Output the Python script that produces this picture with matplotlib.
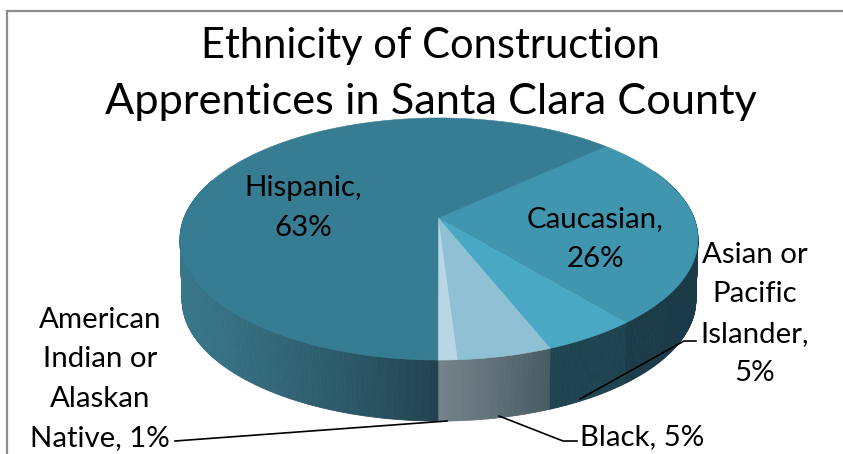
import numpy as np
import matplotlib
matplotlib.use("Agg")
import matplotlib.pyplot as plt
from matplotlib.colors import to_rgb

# ---- data ----
categories = ["Caucasian", "Asian or Pacific Islander", "Black",
              "American Indian or Alaskan Native", "Hispanic"]
shares = [26, 5, 5, 1, 63]
title_lines = ["Ethnicity of Construction", "Apprentices in Santa Clara County"]

# ---- styles ----
top_colors = ["#4095AF", "#49A8C4", "#90C0D3", "#BAD5E3", "#367D93"]
wall_colors = [("#1A3B47", "#1A3B47"), ("#1E4451", "#1E4451"), ("#475A62", "#6F7D85"),
               ("#6C7A82", "#74828A"), ("#213F4B", "#38768A")]
START_DEG = 43.0
CX, CY, R, S, A = 439.0, 218.0, 255.0, 117.4, 0.1736
DEPTH = 61.0

fig = plt.figure(figsize=(8.43, 4.54), dpi=100, facecolor="white")
ax = fig.add_axes([0, 0, 1, 1])
ax.set_xlim(0, 843)
ax.set_ylim(454, 0)
ax.axis("off")


def project(theta_deg, shift=0.0, scale=1.0):
    t = np.radians(theta_deg)
    u, v = np.cos(t), np.sin(t)
    w = 1 + A * v
    return CX + scale * R * u / w, CY - S * v / w + shift


def lerp(c0, c1, t):
    a, b = np.array(to_rgb(c0)), np.array(to_rgb(c1))
    return tuple(a + (b - a) * t)


# slice angular ranges, running clockwise from the start angle
edges = START_DEG - np.cumsum([0] + shares) * 3.6

# side wall
VIS_LO, VIS_HI = -200.0, 25.0
for i in range(len(shares)):
    hi, lo = edges[i], edges[i + 1]
    a0, a1 = max(lo, VIS_LO), min(hi, VIS_HI)
    if a1 <= a0:
        continue
    angles = np.linspace(a1, a0, max(2, int((a1 - a0) / 0.5) + 2))
    for j in range(len(angles) - 1):
        th = angles[j:j + 2]
        xt, yt = project(th)
        xb, yb = project(th, DEPTH, 0.992)
        t = (j + 0.5) / (len(angles) - 1)
        if i == 4:
            # Hispanic: ramp follows the horizontal position
            t = np.clip((CX - xt.mean()) / 250.0, 0, 1) ** 0.8
        col = lerp(wall_colors[i][0], wall_colors[i][1], t)
        ax.fill(np.r_[xt, xb[::-1]], np.r_[yt, yb[::-1]], color=col, lw=0.6, zorder=2)

# top face
for i, col in enumerate(top_colors):
    th = np.linspace(edges[i], edges[i + 1], max(3, int(shares[i] * 3.6) + 2))
    x, y = project(th)
    ax.fill(np.r_[CX - 1, x], np.r_[CY, y], color=col, lw=0.4, zorder=3)

# title
title_font = dict(family=["Lato", "DejaVu Sans"], weight="normal", color="black", zorder=6)
ax.text(430, 46, title_lines[0], ha="center", va="center", fontsize=30, **title_font)
ax.text(431, 102, title_lines[1], ha="center", va="center", fontsize=31.2, **title_font)

# data labels
lab = dict(family=["Lato", "DejaVu Sans"], color="black", zorder=6, ha="center",
           fontsize=21.2, linespacing=1.63)
ax.text(303, 208, f"Hispanic,\n{shares[4]}%", va="center", **lab)
ax.text(595, 239, f"Caucasian,\n{shares[0]}%", va="center", **lab)
ax.text(755, 314, f"Asian or\nPacific\nIslander,\n{shares[1]}%", va="center", **lab)
ax.text(642, 437, f"Black, {shares[2]}%", va="center", **lab)
ax.text(100, 379, f"American\nIndian or\nAlaskan\nNative, {shares[3]}%", va="center", **lab)

# leader lines
ax.plot([175, 447], [441, 421], color="black", lw=1.2, zorder=5)
ax.plot([499, 563, 577], [416, 441, 441], color="black", lw=1.2, zorder=5)
ax.plot([580, 684, 696], [399, 341, 341], color="black", lw=1.2, zorder=5)

# chart frame visible along the top and left
ax.plot([6.5, 843], [11, 11], color="#8C8C8C", lw=1.6, zorder=1)
ax.plot([6.5, 6.5], [11, 454], color="#8C8C8C", lw=1.6, zorder=1)

fig.savefig("out.png", dpi=100, facecolor="white")
